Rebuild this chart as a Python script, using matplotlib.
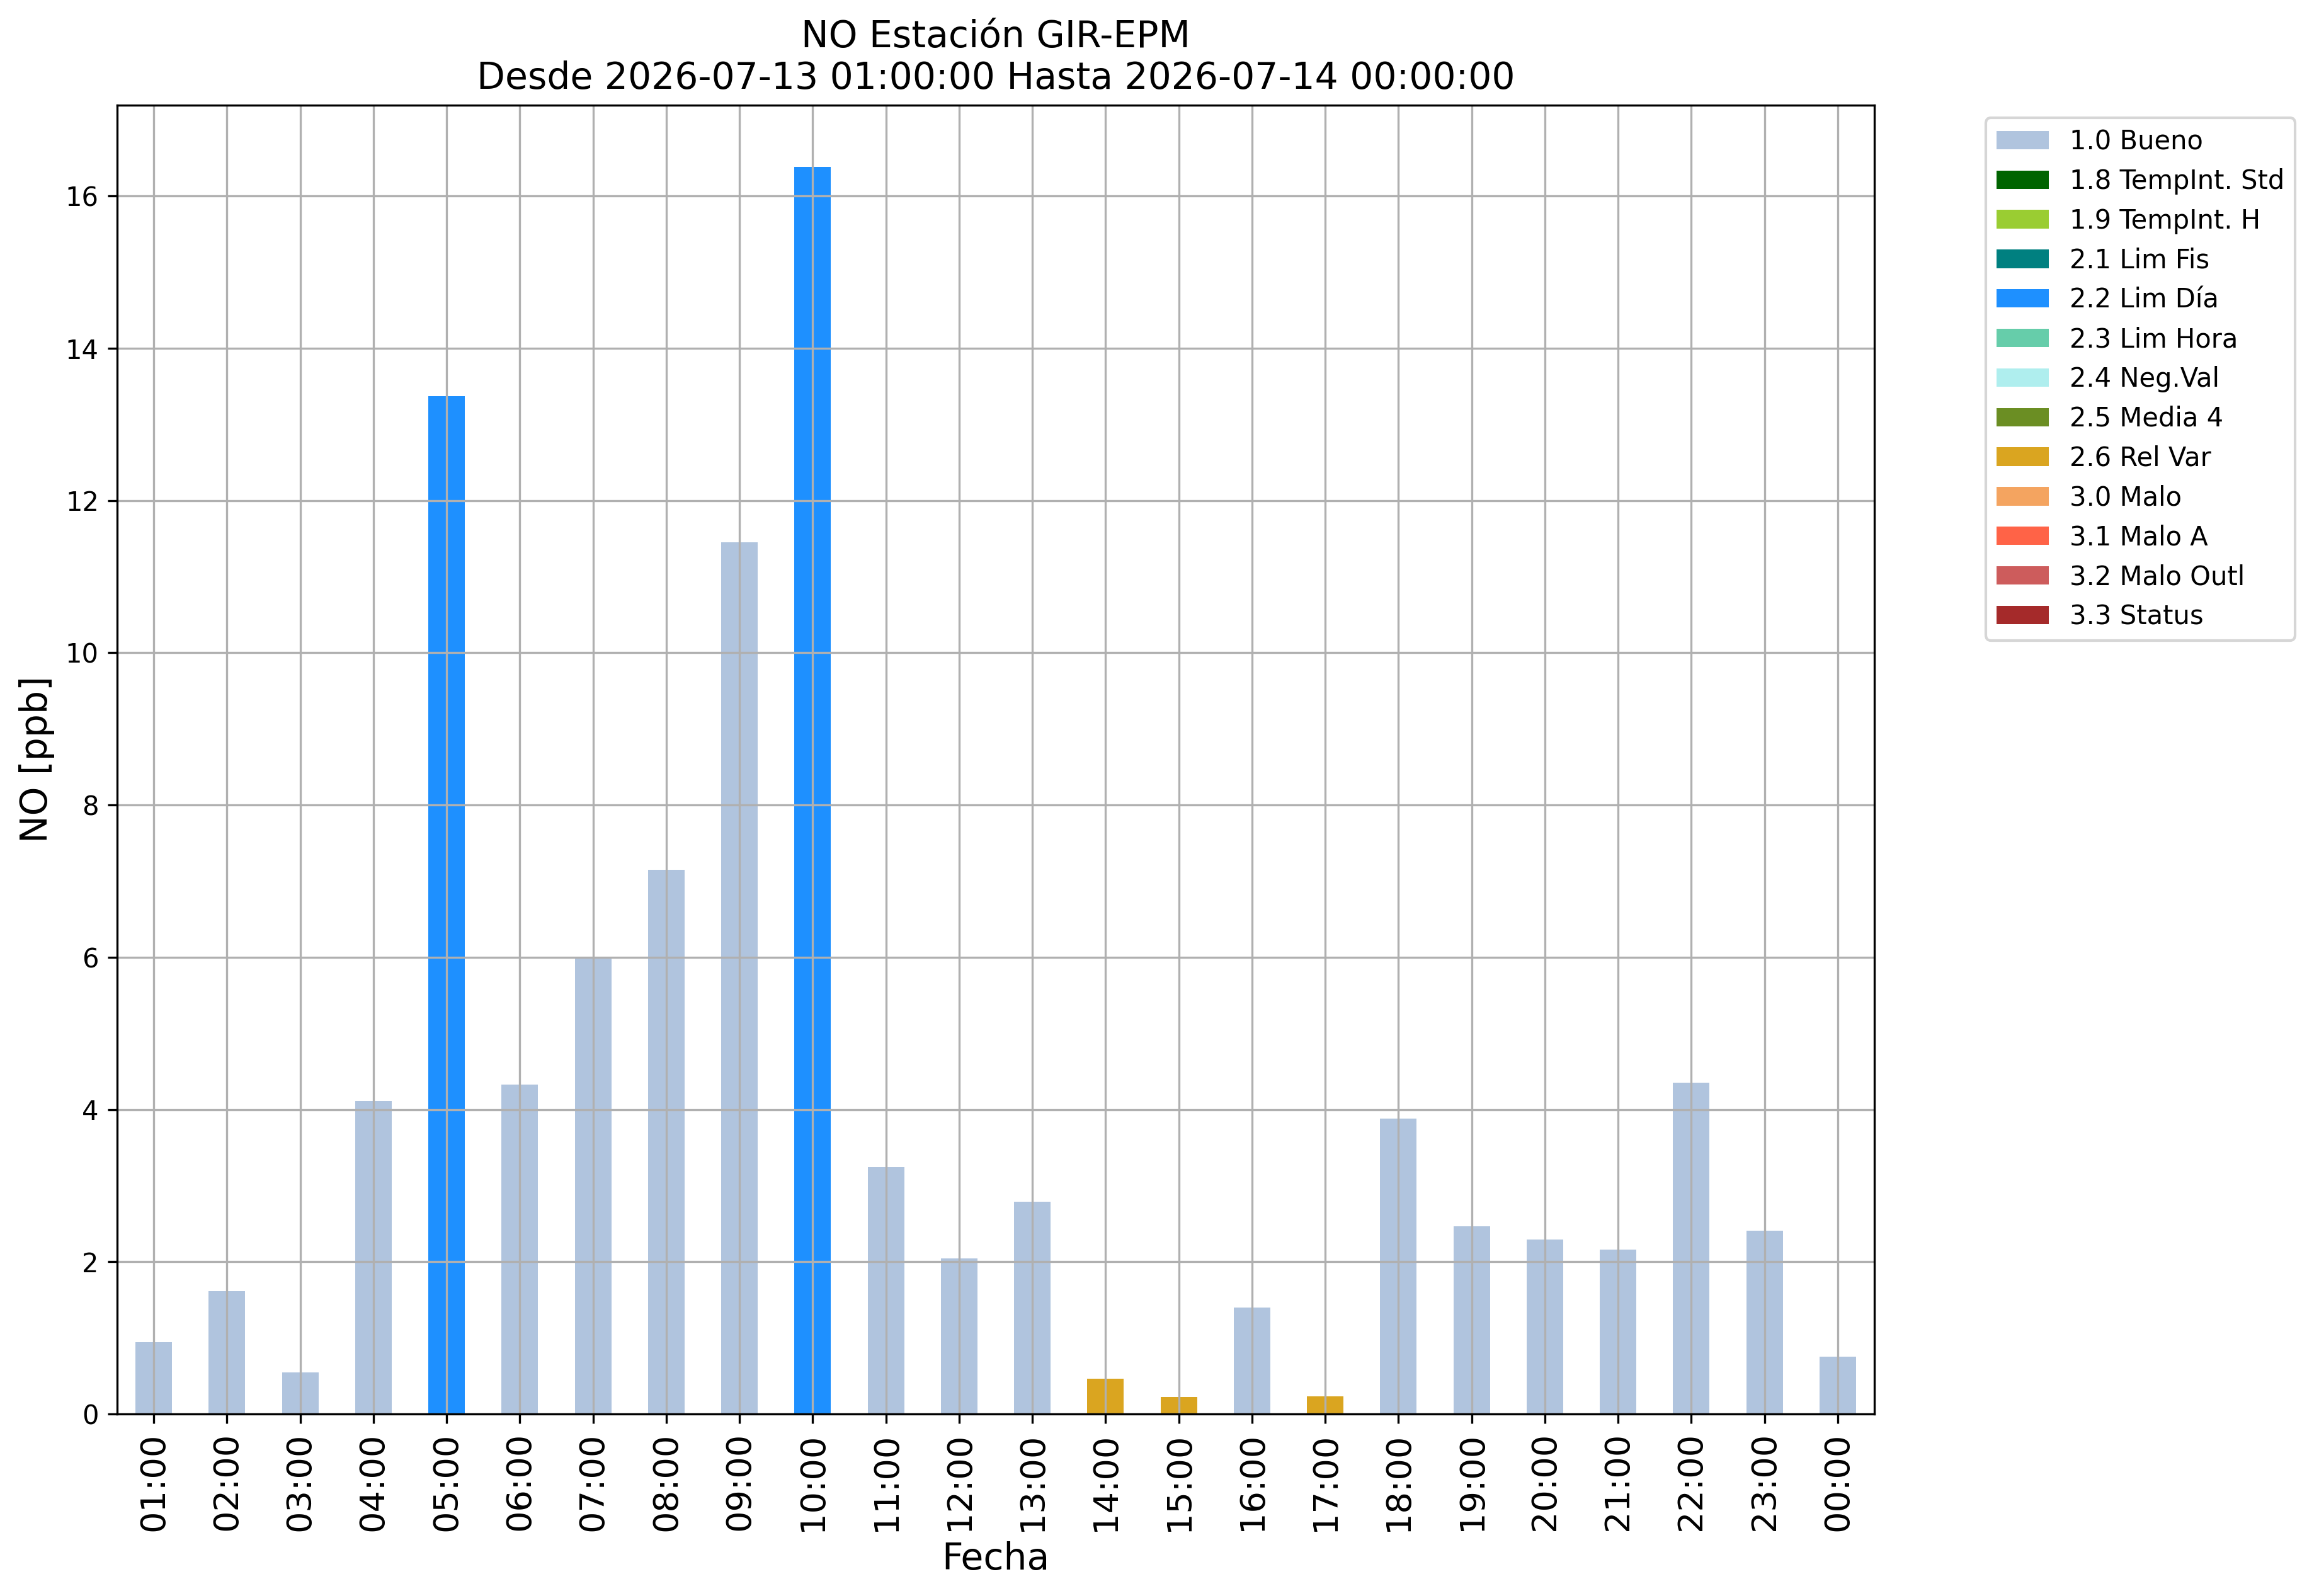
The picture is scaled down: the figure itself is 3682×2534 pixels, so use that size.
import numpy as np
import matplotlib
matplotlib.use("Agg")
import matplotlib.pyplot as plt

hours = ["01:00", "02:00", "03:00", "04:00", "05:00", "06:00", "07:00", "08:00",
         "09:00", "10:00", "11:00", "12:00", "13:00", "14:00", "15:00", "16:00",
         "17:00", "18:00", "19:00", "20:00", "21:00", "22:00", "23:00", "00:00"]
no_ppb = [0.94, 1.61, 0.55, 4.11, 13.37, 4.33, 6.00, 7.15,
          11.45, 16.38, 3.24, 2.04, 2.79, 0.46, 0.225, 1.40,
          0.235, 3.88, 2.47, 2.29, 2.16, 4.35, 2.41, 0.75]
flags = ["1.0 Bueno", "1.0 Bueno", "1.0 Bueno", "1.0 Bueno", "2.2 Lim Día", "1.0 Bueno",
         "1.0 Bueno", "1.0 Bueno", "1.0 Bueno", "2.2 Lim Día", "1.0 Bueno", "1.0 Bueno",
         "1.0 Bueno", "2.6 Rel Var", "2.6 Rel Var", "1.0 Bueno", "2.6 Rel Var", "1.0 Bueno",
         "1.0 Bueno", "1.0 Bueno", "1.0 Bueno", "1.0 Bueno", "1.0 Bueno", "1.0 Bueno"]

flag_names = ["1.0 Bueno", "1.8 TempInt. Std", "1.9 TempInt. H", "2.1 Lim Fis",
              "2.2 Lim Día", "2.3 Lim Hora", "2.4 Neg.Val", "2.5 Media 4",
              "2.6 Rel Var", "3.0 Malo", "3.1 Malo A", "3.2 Malo Outl", "3.3 Status"]
flag_colors = ["lightsteelblue", "darkgreen", "yellowgreen", "teal",
               "dodgerblue", "mediumaquamarine", "paleturquoise", "olivedrab",
               "goldenrod", "sandybrown", "tomato", "indianred", "brown"]

W, H, DPI = 3682, 2534, 300
fig = plt.figure(figsize=(W / DPI, H / DPI), dpi=DPI)
ax = fig.add_axes([186 / W, 1 - 2245 / H, (2976 - 186) / W, (2245 - 166.5) / H])

x = np.arange(len(hours))
values = np.array(no_ppb)
bottom = np.zeros(len(hours))
# stacked by flag, one colour per quality flag
for name, color in zip(flag_names, flag_colors):
    col = np.where(np.array(flags) == name, values, 0.0)
    ax.bar(x, col, width=0.5, bottom=bottom, color=color, label=name, linewidth=0)
    bottom += col

ax.set_xlim(-0.5, len(hours) - 0.5)
ax.set_ylim(0, values.max() * 1.05)
ax.set_xticks(x)
ax.set_xticklabels(hours, rotation=90, fontsize=13)
ax.grid(True)
ax.set_xlabel("Fecha", fontsize=14)
ax.set_ylabel("NO [ppb]", fontsize=14)
ax.set_title("NO Estación GIR-EPM\nDesde 2026-07-13 01:00:00 Hasta 2026-07-14 00:00:00", fontsize=14)
ax.legend(loc="upper left", bbox_to_anchor=(1.056, 1))

fig.savefig("out.png", dpi=DPI)
plt.close(fig)
